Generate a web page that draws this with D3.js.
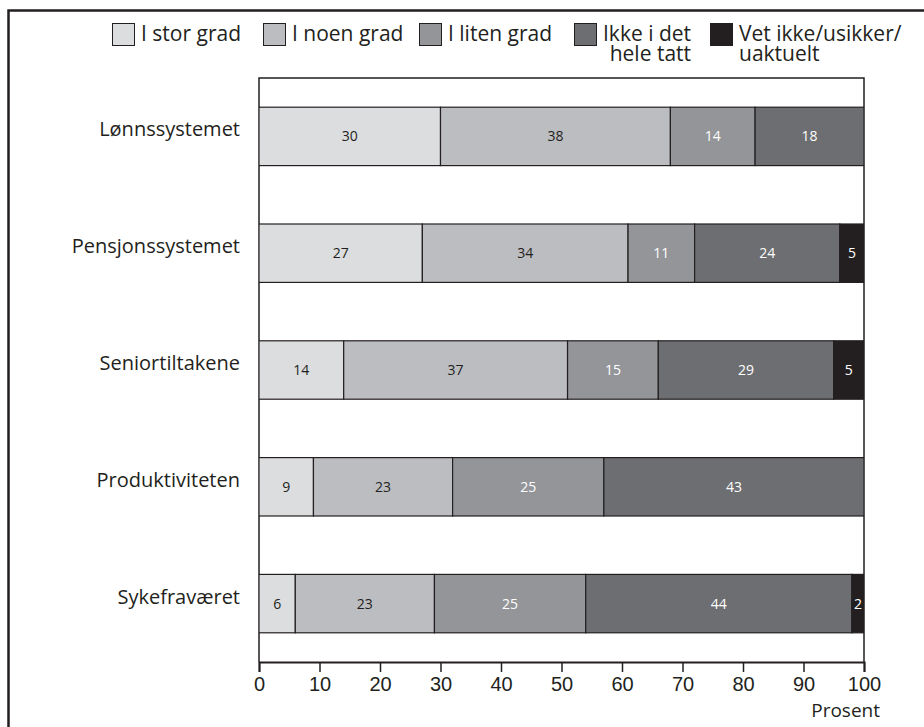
<!DOCTYPE html>
<html>
<head>
<meta charset="utf-8">
<script src="https://cdn.jsdelivr.net/npm/d3@7/dist/d3.min.js"></script>
<style>
  html, body { margin: 0; padding: 0; background: #fff; }
  svg { display: block; font-family: "Open Sans", "DejaVu Sans Condensed", sans-serif; }
</style>
</head>
<body>
<svg id="chart" width="924" height="727"></svg>
<script>
// Survey answers, percent per category
const categories = ["Lønnssystemet", "Pensjonssystemet", "Seniortiltakene", "Produktiviteten", "Sykefraværet"];
const seriesNames = ["I stor grad", "I noen grad", "I liten grad", "Ikke i det hele tatt", "Vet ikke/usikker/uaktuelt"];
const stor    = [30, 27, 14, 9, 6];
const noen    = [38, 34, 37, 23, 23];
const liten   = [14, 11, 15, 25, 25];
const ikke    = [18, 24, 29, 43, 44];
const vetIkke = [0, 5, 5, 0, 2];
const xTicks  = [0, 10, 20, 30, 40, 50, 60, 70, 80, 90, 100];

const legendLines = [["I stor grad"], ["I noen grad"], ["I liten grad"], ["Ikke i det", "hele tatt"], ["Vet ikke/usikker/", "uaktuelt"]];
const legendAlign = ["start", "start", "start", "end", "start"];
const colors = ["#dcdddf", "#bcbdc0", "#939598", "#6d6e71", "#231f20"];
const labelColors = ["#231f20", "#231f20", "#ffffff", "#ffffff", "#ffffff"];
const ink = "#231f20";

const rows = categories.map((c, i) => ({
  cat: c,
  [seriesNames[0]]: stor[i],
  [seriesNames[1]]: noen[i],
  [seriesNames[2]]: liten[i],
  [seriesNames[3]]: ikke[i],
  [seriesNames[4]]: vetIkke[i]
}));

const svg = d3.select("#chart");
const W = 924, H = 727;
const plot = { left: 259, right: 864, top: 78, bottom: 662 };

// Outer frame
svg.append("rect")
  .attr("x", 8.5).attr("y", 10.5)
  .attr("width", W + 10).attr("height", H + 10)
  .attr("fill", "none").attr("stroke", ink).attr("stroke-width", 2.5);

const x = d3.scaleLinear().domain([0, 100]).range([plot.left, plot.right]);
const y = d3.scaleBand().domain(categories).range([plot.top, plot.bottom]).paddingInner(0.5).paddingOuter(0.25);

const stack = d3.stack().keys(seriesNames)(rows);

svg.append("defs").append("clipPath").attr("id", "plotClip")
  .append("rect")
  .attr("x", plot.left).attr("y", plot.top)
  .attr("width", plot.right - plot.left).attr("height", plot.bottom - plot.top);

// Plot box (top and sides)
svg.append("path")
  .attr("d", `M${plot.left},${plot.bottom}V${plot.top}H${plot.right}V${plot.bottom}`)
  .attr("fill", "none").attr("stroke", ink).attr("stroke-width", 1.5);

const bars = svg.append("g").attr("clip-path", "url(#plotClip)");

stack.forEach((layer, si) => {
  bars.append("g").selectAll("rect")
    .data(layer.filter(d => d[1] - d[0] > 0))
    .join("rect")
    .attr("x", d => x(d[0]))
    .attr("y", d => y(d.data.cat))
    .attr("width", d => x(d[1]) - x(d[0]))
    .attr("height", y.bandwidth())
    .attr("fill", colors[si])
    .attr("stroke", ink)
    .attr("stroke-width", 1.2);
});

stack.forEach((layer, si) => {
  svg.append("g").selectAll("text")
    .data(layer.filter(d => d[1] - d[0] > 0))
    .join("text")
    .attr("x", d => (x(d[0]) + Math.min(x(d[1]), plot.right)) / 2)
    .attr("y", d => y(d.data.cat) + y.bandwidth() / 2)
    .attr("dy", "0.35em")
    .attr("text-anchor", "middle")
    .attr("font-size", 14)
    .attr("fill", labelColors[si])
    .text(d => d[1] - d[0]);
});

// Category labels
svg.append("g").selectAll("text")
  .data(categories)
  .join("text")
  .attr("x", 240)
  .attr("y", d => y(d) + y.bandwidth() / 2 - 7)
  .attr("dy", "0.35em")
  .attr("text-anchor", "end")
  .attr("font-size", 20)
  .attr("fill", ink)
  .text(d => d);

// X axis
const axis = svg.append("g")
  .attr("transform", `translate(0,${plot.bottom})`)
  .call(d3.axisBottom(x).tickValues(xTicks).tickSize(10).tickPadding(5));
axis.select(".domain").attr("stroke", ink).attr("stroke-width", 2);
axis.selectAll(".tick line").attr("stroke", ink).attr("stroke-width", 1.5);
axis.selectAll(".tick text").attr("font-size", 20).attr("fill", ink)
  .style("font-family", "inherit");

svg.append("text")
  .attr("x", 880).attr("y", 717)
  .attr("text-anchor", "end")
  .attr("font-size", 19)
  .attr("fill", ink)
  .text("Prosent");

// Legend: swatch plus one text element (two lines as tspans)
const legendX = [112, 263, 419, 574, 710];
const legend = svg.append("g");
legendLines.forEach((lines, i) => {
  const g = legend.append("g").attr("transform", `translate(${legendX[i]},23)`);
  g.append("rect")
    .attr("x", 0.5).attr("y", 0.5).attr("width", 22).attr("height", 22)
    .attr("fill", colors[i]).attr("stroke", ink).attr("stroke-width", 1);
  const t = g.append("text")
    .attr("font-size", 21)
    .attr("fill", ink);
  const first = t.append("tspan").attr("x", 29).attr("y", 18).text(lines[0]);
  if (lines.length > 1) {
    const w = first.node().getComputedTextLength();
    const second = t.append("tspan").attr("y", 38).text(lines[1]);
    if (legendAlign[i] === "end") {
      second.attr("x", 29 + w).attr("text-anchor", "end");
    } else {
      second.attr("x", 29);
    }
  }
});
</script>
</body>
</html>
